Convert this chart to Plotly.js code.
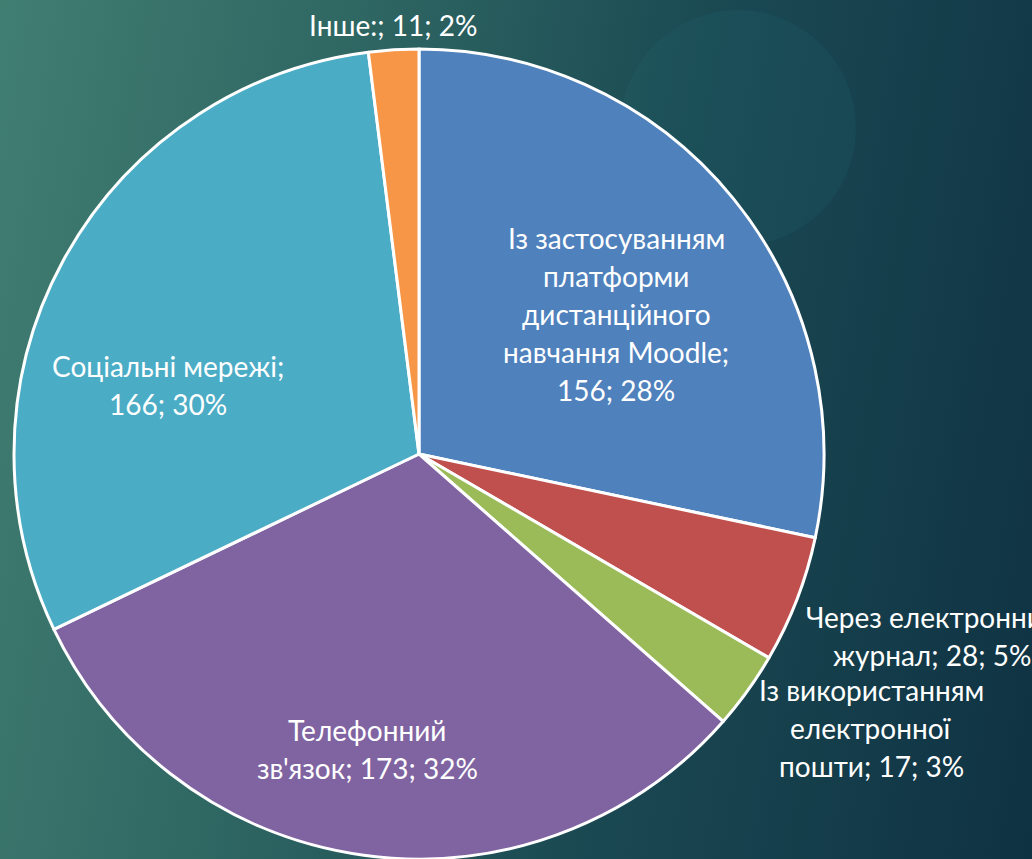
<!DOCTYPE html>
<html>
<head>
<meta charset="utf-8">
<script src="https://cdn.plot.ly/plotly-3.0.1.min.js"></script>
<style>
  html, body { margin: 0; padding: 0; overflow: hidden; }
  body {
    width: 1032px; height: 859px;
    background: linear-gradient(100deg, #417e72 0%, #2f6763 30%, #1b4a53 60%, #0f3243 100%);
  }
  #chart { width: 1032px; height: 859px; }
</style>
</head>
<body>
<div id="chart"></div>
<script>
// slices, clockwise from 12 o'clock
var labels = [
  'Із застосуванням платформи дистанційного навчання Moodle',
  'Через електронний журнал',
  'Із використанням електронної пошти',
  "Телефонний зв'язок",
  'Соціальні мережі',
  'Інше:'
];
var values = [156, 28, 17, 173, 166, 11];
var percents = [28, 5, 3, 32, 30, 2];
var colors = ['#4f81bd', '#c0504d', '#9bbb59', '#8064a2', '#4bacc6', '#f79646'];

// how the label text is broken into lines as in the picture
var labelLines = [
  ['Із застосуванням', 'платформи', 'дистанційного', 'навчання Moodle;'],
  ['Через електронний', 'журнал;'],
  ['Із використанням', 'електронної', 'пошти;'],
  ['Телефонний', "зв'язок;"],
  ['Соціальні мережі;'],
  ['Інше:;']
];
var valueOwnLine = [true, false, false, false, true, false];

// label centre (px, first line) and line step
var labelPos = [[616, 238], [932, 617], [871, 690], [367, 730], [168, 366], [393, 25]];
var lineStep = 38;

const W = 1032, H = 859;

var annotations = [];
for (let i = 0; i < labels.length; i++) {
  let lines = labelLines[i].slice();
  let tail = values[i] + '; ' + percents[i] + '%';
  if (valueOwnLine[i]) lines.push(tail);
  else lines[lines.length - 1] = lines[lines.length - 1] + ' ' + tail;
  lines.forEach(function (ln, k) {
    annotations.push({
      text: ln,
      x: labelPos[i][0] / W,
      y: 1 - (labelPos[i][1] + k * lineStep) / H,
      xref: 'paper', yref: 'paper',
      xanchor: 'center', yanchor: 'middle',
      showarrow: false,
      font: { family: 'Lato, Open Sans, sans-serif', size: 28, color: '#ffffff' }
    });
  });
}

const data = [{
  type: 'pie',
  labels: labels,
  values: values,
  sort: false,
  direction: 'clockwise',
  rotation: 0,
  textinfo: 'none',
  hoverinfo: 'none',
  marker: { colors: colors, line: { color: '#ffffff', width: 3 } },
  domain: { x: [13 / W, 825 / W], y: [0, 1 - 49 / H] }
}];

const layout = {
  width: W,
  height: H,
  margin: { l: 0, r: 0, t: 0, b: 0 },
  paper_bgcolor: 'rgba(0,0,0,0)',
  plot_bgcolor: 'rgba(0,0,0,0)',
  showlegend: false,
  annotations: annotations,
  shapes: [{
    type: 'circle', xref: 'paper', yref: 'paper', layer: 'below',
    x0: 620 / W, x1: 856 / W, y0: 1 - 246 / H, y1: 1 - 10 / H,
    fillcolor: 'rgba(45,125,135,0.12)', line: { width: 0 }
  }]
};

Plotly.newPlot('chart', data, layout, { staticPlot: true });
</script>
</body>
</html>
